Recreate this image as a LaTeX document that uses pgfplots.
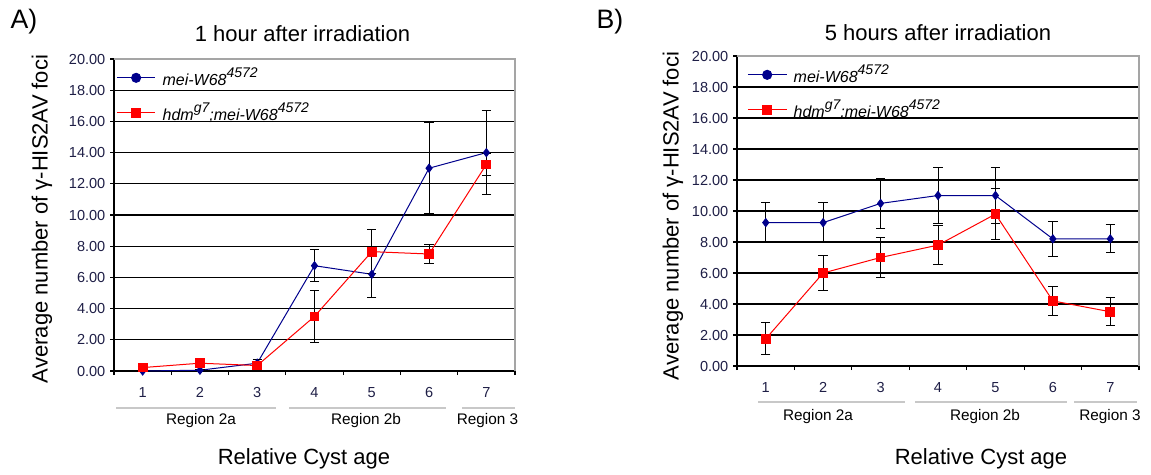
\documentclass[border=0pt]{standalone}
\usepackage{pgfplots}
\pgfplotsset{compat=1.18}
\usepackage{fontspec}
\setmainfont{Liberation Sans}

\definecolor{meiblue}{RGB}{0,0,140}
\definecolor{hdmred}{RGB}{255,0,0}
\definecolor{tickcol}{RGB}{30,30,70}
\definecolor{framegray}{RGB}{165,165,165}
\definecolor{regiongray}{RGB}{200,200,200}

% superscript used in the genotype names
\newcommand{\supit}[1]{\raisebox{0.5em}{\fontsize{10.5}{12}\selectfont\itshape #1}}
\newcommand{\mei}{\textit{mei-W68}\supit{4572}}
\newcommand{\hdm}{\textit{hdm}\supit{g7}\textit{;mei-W68}\supit{4572}}

\pgfplotsset{
  cyst/.style={
    scale only axis, anchor=south west, clip=false,
    xmin=0.5, xmax=7.5, ymin=0, ymax=20,
    xtick={0.5,1.5,...,7.5}, xticklabels={},
    extra x ticks={1,2,3,4,5,6,7},
    extra x tick labels={1,2,3,4,5,6,7},
    extra x tick style={major tick length=0pt},
    ytick={0,2,...,20},
    xtick pos=left, ytick pos=left,
    tick align=outside, major tick length=3pt,
    tick style={black, line width=0.8pt},
    ymajorgrids, major grid style={black, line width=1pt},
    axis line style={black, line width=1pt},
    yticklabel style={font=\fontsize{10.9}{12}\selectfont, text=tickcol,
      /pgf/number format/.cd, fixed, fixed zerofill, precision=2, assume math mode=true},
    xticklabel style={font=\fontsize{10.9}{12}\selectfont, text=tickcol, yshift=-9pt},
    legend style={draw=none, fill=none, at={(0,1)}, anchor=north west,
      inner xsep=1.5pt, inner ysep=4.5pt, row sep=7.5pt,
      font=\fontsize{12}{14}\selectfont, cells={anchor=west}},
    error bars/y dir=both, error bars/y explicit,
    error bars/error mark=-,
    error bars/error bar style={black, line width=0.75pt, solid},
    error bars/error mark options={black, line width=0.75pt, mark size=3.5pt, rotate=90},
  },
  meistyle/.style={meiblue, line width=0.75pt, mark=diamond*, mark size=3pt,
    mark options={fill=meiblue},
    legend image code/.code={\draw[meiblue, line width=0.8pt] (0pt,0pt) -- (29pt,0pt);
      \fill[meiblue] (14.5pt,0pt) circle (3.4pt); \path (32pt,0pt);}},
  hdmstyle/.style={hdmred, line width=0.75pt, mark=square*, mark size=3.3pt,
    mark options={fill=hdmred},
    legend image code/.code={\draw[hdmred, line width=0.8pt] (0pt,0pt) -- (29pt,0pt);
      \fill[hdmred] (11.1pt,-3.4pt) rectangle (17.9pt,3.4pt); \path (32pt,0pt);}},
}

\begin{document}
\begin{tikzpicture}[x=0.75pt, y=-0.75pt]
\useasboundingbox (0,0) rectangle (1151,474);

% ---------- A) 1 hour ----------
\begin{axis}[cyst, at={(85.5pt,-278.25pt)}, width=300.75pt, height=234pt]
\addplot+[meistyle] coordinates {
  (1,0.00) +- (0,0.05)
  (2,0.05) +- (0,0.05)
  (3,0.50) +- (0,0.25)
  (4,6.75) +- (0,1.03)
  (5,6.20) +- (0,1.48)
  (6,13.00) +- (0,2.93)
  (7,14.00) +- (0,2.67)
};
\addlegendentry{\mei}
\addplot+[hdmstyle] coordinates {
  (1,0.22) +- (0,0.10)
  (2,0.50) +- (0,0.15)
  (3,0.35) +- (0,0.20)
  (4,3.50) +- (0,1.69)
  (5,7.65) +- (0,1.43)
  (6,7.50) +- (0,0.58)
  (7,13.24) +- (0,0.73)
};
\addlegendentry{\hdm}
\draw[framegray, line width=1pt] (rel axis cs:0,1) -- (rel axis cs:1,1) -- (rel axis cs:1,0);
\end{axis}

% ---------- B) 5 hours ----------
\begin{axis}[cyst, at={(552.75pt,-274.5pt)}, width=301.5pt, height=232.5pt,
  legend style={at={(rel axis cs:0.02,1)}}]
\addplot+[meistyle] coordinates {
  (1,9.25) +- (0,1.30)
  (2,9.25) +- (0,1.30)
  (3,10.49) +- (0,1.60)
  (4,11.00) +- (0,1.80)
  (5,11.00) +- (0,1.80)
  (6,8.20) +- (0,1.15)
  (7,8.20) +- (0,0.90)
};
\addlegendentry{\mei}
\addplot+[hdmstyle] coordinates {
  (1,1.75) +- (0,1.03)
  (2,6.00) +- (0,1.10)
  (3,7.00) +- (0,1.30)
  (4,7.80) +- (0,1.25)
  (5,9.80) +- (0,1.67)
  (6,4.20) +- (0,0.95)
  (7,3.50) +- (0,0.90)
};
\addlegendentry{\hdm}
\draw[framegray, line width=1pt] (rel axis cs:0,1) -- (rel axis cs:1,1) -- (rel axis cs:1,0);
\end{axis}

% ---------- texts around the panels ----------
\node[font=\fontsize{20}{22}\selectfont] at (24,22) {A)};
\node[font=\fontsize{20}{22}\selectfont] at (610,22) {B)};
\node[font=\fontsize{16.5}{18}\selectfont] at (302.5,34) {1 hour after irradiation};
\node[font=\fontsize{16.5}{18}\selectfont] at (938,33) {5 hours after irradiation};
\node[font=\fontsize{16.5}{18}\selectfont, rotate=90] at (42,219) {Average number of γ-HIS2AV foci};
\node[font=\fontsize{16.5}{18}\selectfont, rotate=90] at (673,216) {Average number of γ-HIS2AV foci};
\node[font=\fontsize{16.5}{18}\selectfont] at (304,459) {Relative Cyst age};
\node[font=\fontsize{16.5}{18}\selectfont] at (981,459) {Relative Cyst age};

% region brackets
\begin{scope}[regiongray, line width=1.3pt]
\draw (116,408) -- (276,408);
\draw (289,408) -- (446,408);
\draw (462,408) -- (515,408);
\draw (758,402) -- (905,402);
\draw (915,402) -- (1067,402);
\draw (1074,402) -- (1137,402);
\end{scope}
\begin{scope}[font=\fontsize{11.5}{13}\selectfont]
\node at (201,421) {Region 2a};
\node at (366,421) {Region 2b};
\node at (487.5,421) {Region 3};
\node at (818,417) {Region 2a};
\node at (985,417) {Region 2b};
\node at (1110,417) {Region 3};
\end{scope}
\end{tikzpicture}
\end{document}
